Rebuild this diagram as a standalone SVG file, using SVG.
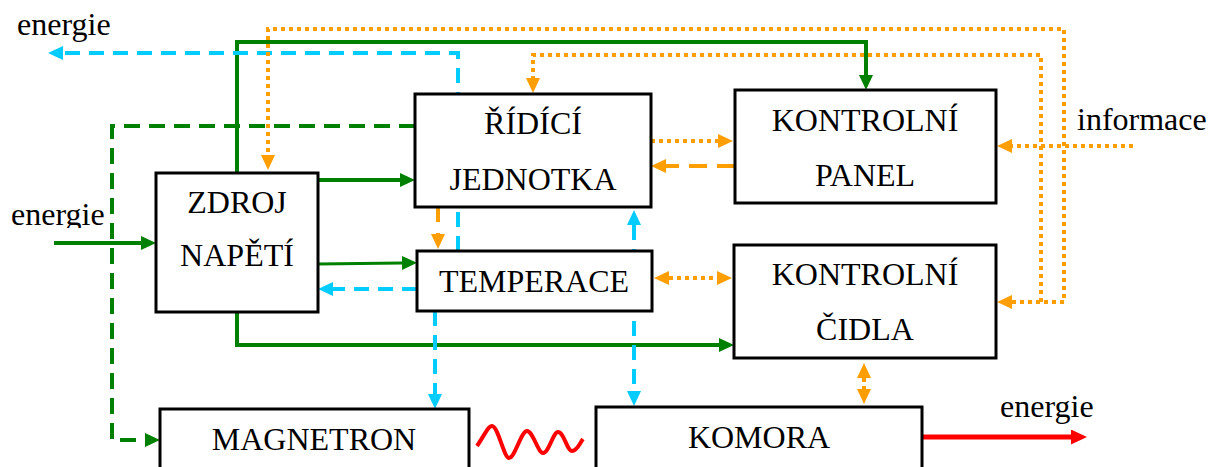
<svg xmlns="http://www.w3.org/2000/svg" width="1223" height="467" viewBox="0 0 1223 467">
<style>
text{font-family:"Liberation Serif","Times New Roman",serif;font-size:32px;fill:#000}
.node rect{fill:#fff;stroke:#000;stroke-width:3}
.c{fill:none;stroke-width:4}
.g{stroke:#008000}
.gd{stroke:#008000;stroke-dasharray:16 9}
.b{stroke:#00CCFF;stroke-dasharray:15 9}
.od{stroke:#FF9E00;stroke-dasharray:4 4}
.oa{stroke:#FF9E00;stroke-dasharray:18 10}
.r{stroke:#FF0000}
</style>
<defs>
<marker id="ag" viewBox="0 0 15 14" markerWidth="15" markerHeight="14" refX="0" refY="7" markerUnits="userSpaceOnUse" orient="auto-start-reverse"><path d="M0,0 L15,7 L0,14 z" fill="#008000"/></marker>
<marker id="ab" viewBox="0 0 15 14" markerWidth="15" markerHeight="14" refX="0" refY="7" markerUnits="userSpaceOnUse" orient="auto-start-reverse"><path d="M0,0 L15,7 L0,14 z" fill="#00CCFF"/></marker>
<marker id="ao" viewBox="0 0 15 14" markerWidth="15" markerHeight="14" refX="0" refY="7" markerUnits="userSpaceOnUse" orient="auto-start-reverse"><path d="M0,0 L15,7 L0,14 z" fill="#FF9E00"/></marker>
<marker id="ar" viewBox="0 0 16 15" markerWidth="16" markerHeight="15" refX="0" refY="7.5" markerUnits="userSpaceOnUse" orient="auto-start-reverse"><path d="M0,0 L16,7.5 L0,15 z" fill="#FF0000"/></marker>
<clipPath id="clipE"><rect x="0" y="190" width="120" height="38"/></clipPath>
</defs>
<g id="connectors">
<path class="c g" d="M237,173 V42 H866 V75" marker-end="url(#ag)"/>
<path class="c g" d="M318,180 H400" marker-end="url(#ag)"/>
<path class="c g" style="stroke-width:3" d="M318,264 L402,263" marker-end="url(#ag)"/>
<path class="c g" d="M237,312 V345 H719" marker-end="url(#ag)"/>
<path class="c g" d="M54,243 H141" marker-end="url(#ag)"/>
<path class="c gd" d="M415,126 H112 V440 H145" marker-end="url(#ag)"/>
<path class="c b" d="M458,251 V53 H63" marker-end="url(#ab)"/>
<path class="c b" d="M417,289 H333" marker-end="url(#ab)"/>
<path class="c b" d="M435,311 V394" marker-end="url(#ab)"/>
<path class="c b" d="M634,225 V391" marker-start="url(#ab)" marker-end="url(#ab)"/>
<path class="c od" d="M1133,146 H1012" marker-end="url(#ao)"/>
<path class="c od" d="M1012,302 H1064 V29 H268 V155" marker-start="url(#ao)" marker-end="url(#ao)"/>
<path class="c od" d="M1041,302 V55 H533 V78" marker-end="url(#ao)"/>
<path class="c od" d="M651,141 H718" marker-end="url(#ao)"/>
<path class="c od" d="M669,278 H717" marker-start="url(#ao)" marker-end="url(#ao)"/>
<path class="c od" d="M864,378 V389" marker-start="url(#ao)" marker-end="url(#ao)"/>
<path class="c oa" d="M735,166 H666" marker-end="url(#ao)"/>
<path class="c oa" style="stroke-dasharray:15 11" d="M438,207 V234" marker-end="url(#ao)"/>
<path class="c r" style="stroke-width:5" d="M922,437 H1071" marker-end="url(#ar)"/>
<path class="c r" d="M477,446 C484,436 488,426 492,426 C498,426 504,458 509,458 C515,458 521,431 527,431 C533,431 538,453 543,453 C549,453 553,432 558,432 C564,432 567,451 572,451 C577,451 580,443 583,439"/>
</g>
<g id="zdroj" class="node"><rect x="156" y="173" width="162" height="139"/><text x="237" y="213" text-anchor="middle">ZDROJ</text><text x="237" y="266" text-anchor="middle">NAPĚTÍ</text></g>
<g id="ridici" class="node"><rect x="415" y="94" width="236" height="113"/><text x="533" y="134" text-anchor="middle">ŘÍDÍCÍ</text><text x="533" y="190" text-anchor="middle">JEDNOTKA</text></g>
<g id="panel" class="node"><rect x="735" y="90" width="261" height="113"/><text x="865" y="131" text-anchor="middle">KONTROLNÍ</text><text x="865" y="186" text-anchor="middle">PANEL</text></g>
<g id="temperace" class="node"><rect x="417" y="251" width="235" height="60"/><text x="534" y="292" text-anchor="middle">TEMPERACE</text></g>
<g id="cidla" class="node"><rect x="734" y="245" width="262" height="113"/><text x="865" y="285" text-anchor="middle">KONTROLNÍ</text><text x="865" y="340" text-anchor="middle">ČIDLA</text></g>
<g id="magnetron" class="node"><rect x="160" y="409" width="309" height="70"/><text x="314" y="450" text-anchor="middle">MAGNETRON</text></g>
<g id="komora" class="node"><rect x="596" y="407" width="326" height="70"/><text x="759" y="448" text-anchor="middle">KOMORA</text></g>
<g id="labels">
<text x="17" y="35">energie</text>
<text x="11" y="225" clip-path="url(#clipE)">energie</text>
<text x="1077" y="130">informace</text>
<text x="1000" y="417">energie</text>
</g>
</svg>
